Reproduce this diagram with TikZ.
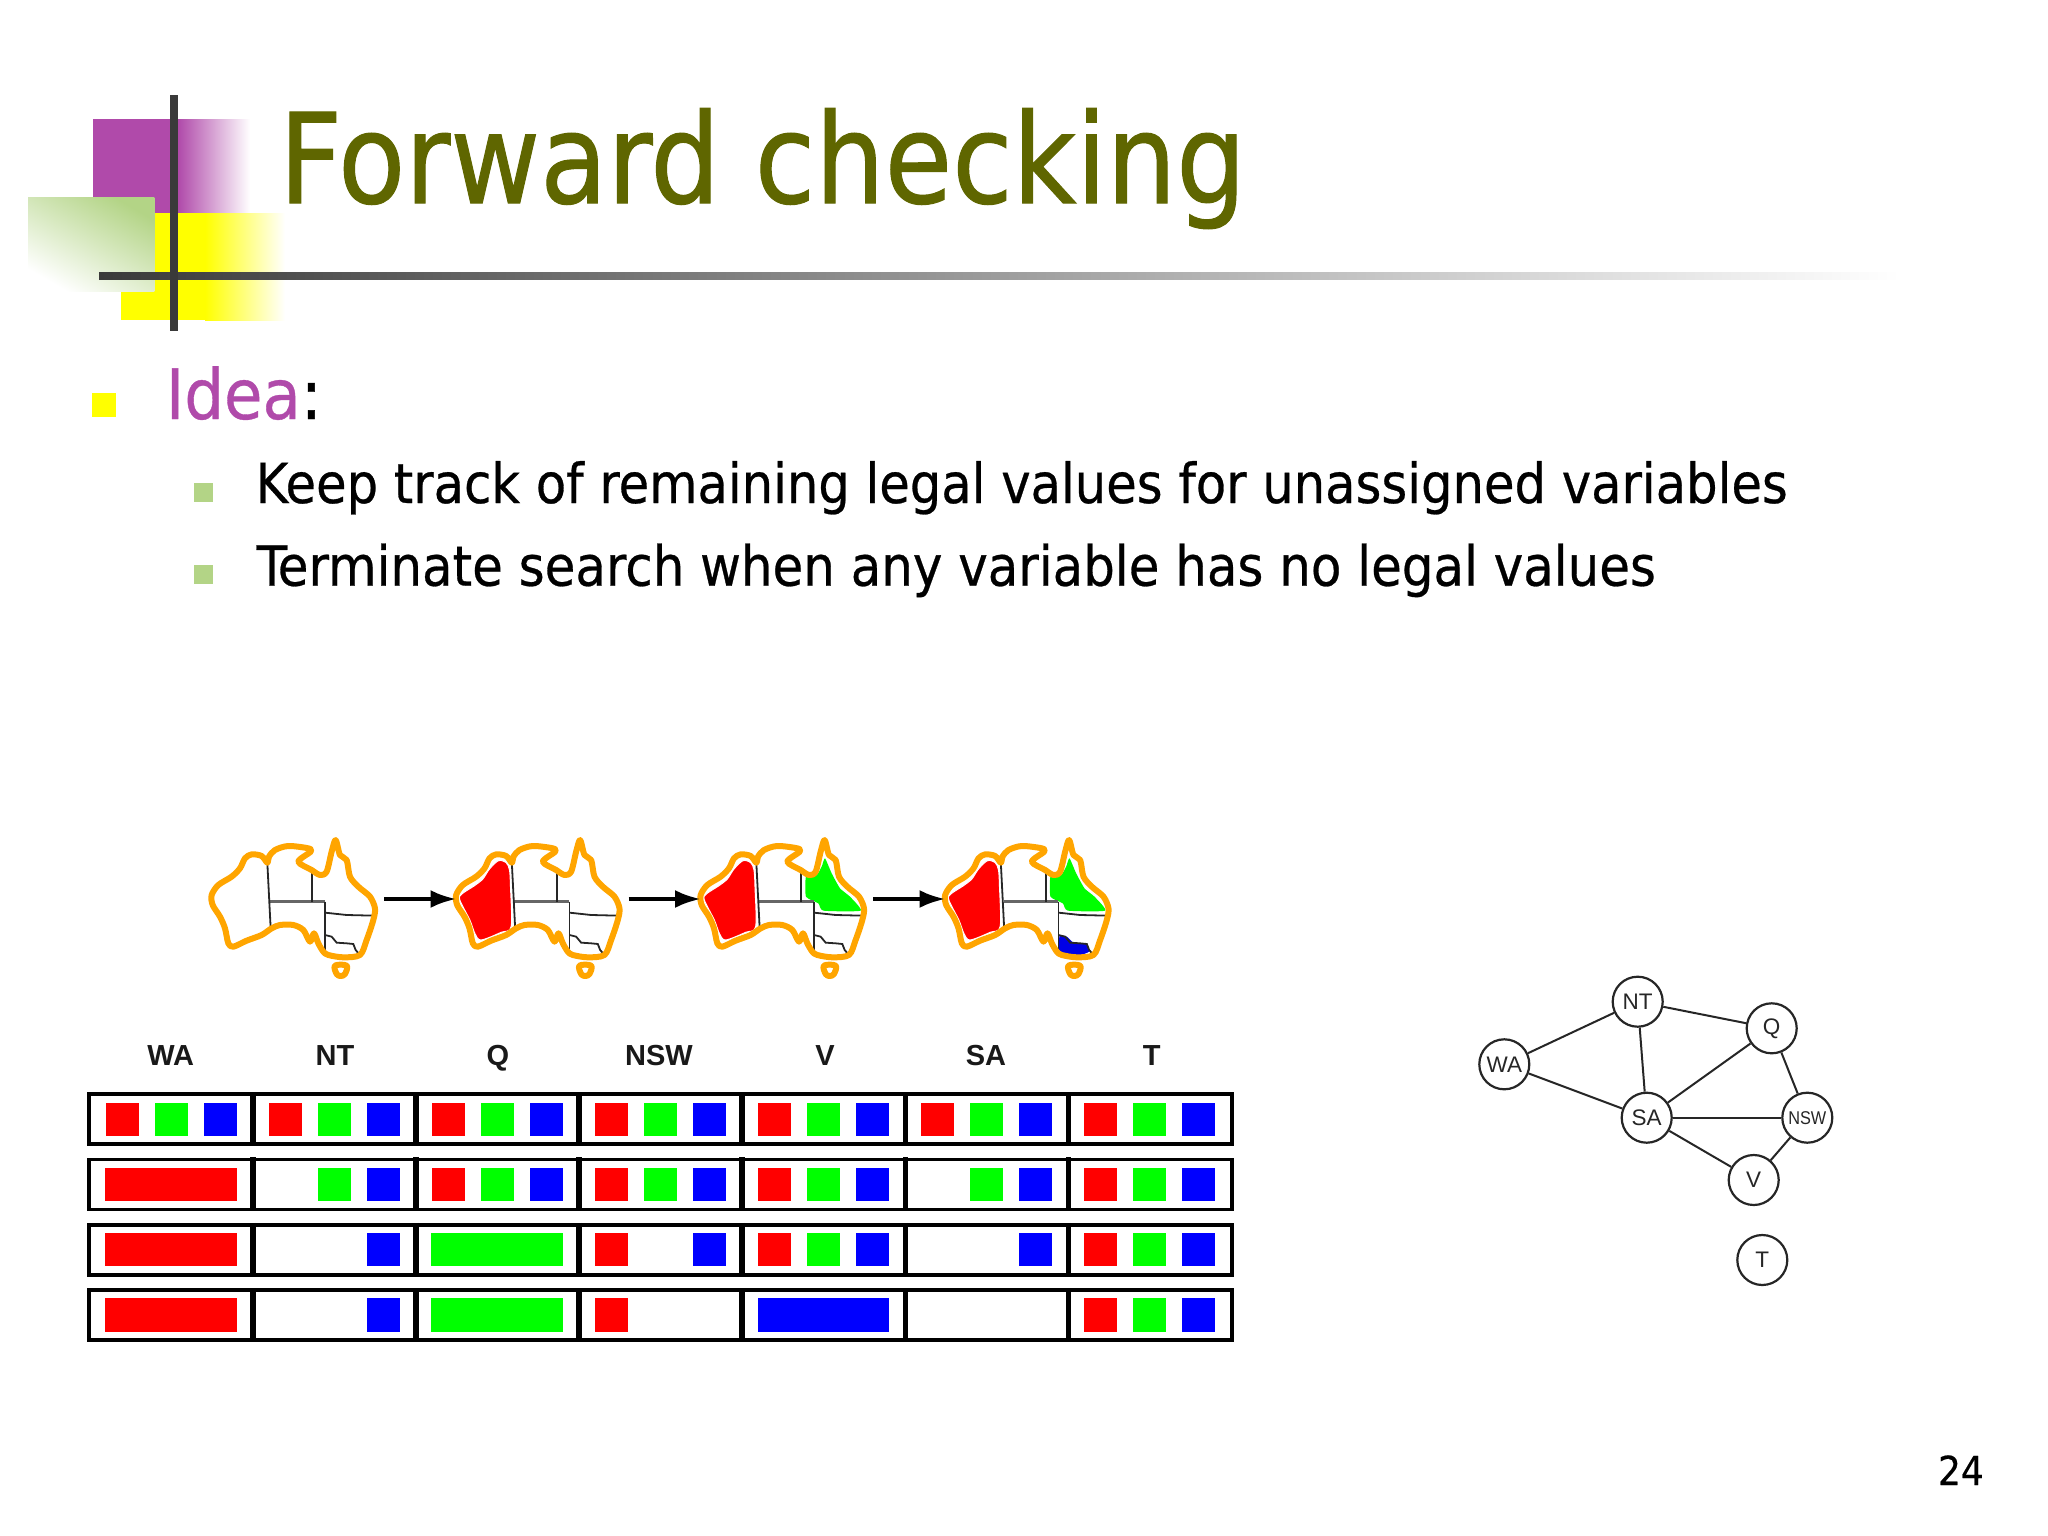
\documentclass[tikz,border=0pt]{standalone}
\usepackage{fontspec}
\setmainfont[FakeBold=0.5]{DejaVu Sans Condensed}
\newfontfamily\titlefont[FakeStretch=0.976,FakeBold=0.8]{DejaVu Sans Condensed}
\newfontfamily\lblfont{Liberation Sans}
\usepackage{xcolor}
\usetikzlibrary{positioning,arrows.meta}

\definecolor{titleolive}{HTML}{5F6600}
\definecolor{logopurple}{HTML}{B04AAA}
\definecolor{logoyellow}{HTML}{FFFF00}
\definecolor{logogreen}{HTML}{B3D486}
\definecolor{logodark}{HTML}{3A3A3A}
\definecolor{coastorange}{HTML}{FFA500}
\definecolor{domred}{HTML}{FF0000}
\definecolor{domgreen}{HTML}{00FF00}
\definecolor{domblue}{HTML}{0000FF}

% one map, in units of a third of a pixel
\newcommand{\wafill}{\draw[white,fill=domred,line width=1pt] plot[smooth cycle,tension=0.5] coordinates {(192,122) (215,128) (225,150) (228,200) (230,320) (200,337) (140,360) (122,342) (106,300) (76,240) (82,222) (120,197) (145,177) (165,147)};}
\newcommand{\qldfill}{\fill[domgreen] plot[smooth cycle,tension=0.3] coordinates {(438,115) (458,160) (483,205) (513,230) (545,272) (433,272) (418,250) (381,230) (381,170) (413,165) (428,140)};}
\newcommand{\vicfill}{\fill[domblue!90!black] plot[smooth cycle,tension=0.3] coordinates {(408,348) (430,350) (450,368) (490,372) (497,395) (470,405) (430,405) (408,395)};}
\newcommand{\ausmap}[2]{%
  \begin{scope}[shift={(#1.center)},shift={(-103.5,-79)},x=0.3333pt,y=-0.3333pt]
    #2
    \draw[border,black!60,line width=2.8pt] (240,245) -- (405,245);
    \draw[border] (232,128) -- (242,325);
    \draw[border] (367,150) -- (367,245);
    \draw[border] (405,245) -- (405,395);
    \draw[border] (405,278) -- (470,285) -- (552,287);
    \draw[border] (405,345) -- (425,350) -- (440,368) -- (470,370) -- (490,372) -- (497,390) -- (510,405);
    \draw[coast] plot[smooth cycle,tension=0.5] coordinates {(232,128) (215,108) (185,103) (165,115) (150,145) (125,170) (85,195) (65,225) (68,255) (90,290) (105,325) (115,370) (130,380) (170,362) (215,345) (245,325) (270,315) (310,315) (340,330) (360,365) (372,340) (385,370) (400,395) (415,405) (460,412) (510,405) (530,360) (550,300) (555,265) (540,230) (505,200) (480,170) (470,120) (450,105) (437,60) (425,95) (410,155) (390,165) (365,150) (325,125) (362,95) (355,85) (295,78) (255,90) (237,110)};
    \draw[coast] plot[smooth cycle,tension=0.6] coordinates {(435,437) (470,437) (465,462) (452,468) (440,462)};
  \end{scope}}

\begin{document}
\begin{tikzpicture}[
    x=1pt,y=-1pt,
    titletext/.style={inner sep=0pt,anchor=base west,text=titleolive,font=\titlefont\fontsize{125}{125}\selectfont},
    headtext/.style={inner sep=0pt,anchor=base west,font=\fontsize{69.5}{69.5}\selectfont},
    itemtext/.style={inner sep=0pt,anchor=base west,font=\fontsize{55.15}{55}\selectfont},
    pagetext/.style={inner sep=0pt,anchor=base east,font=\fontsize{40}{40}\selectfont},
    collabel/.style={inner sep=0pt,anchor=base,font=\lblfont\bfseries\fontsize{29}{29}\selectfont,text=black!90},
    csp/.style={draw=black!85,line width=2.2pt,circle,fill=white,minimum size=50pt,inner sep=0pt,text=black!85,font=\lblfont\fontsize{22.5}{22.5}\selectfont},
    mapnode/.style={minimum width=167pt,minimum height=140pt,inner sep=0pt,outer sep=0pt},
    coast/.style={draw=coastorange,line width=6pt,line join=round},
    border/.style={black!85,line width=1.8pt},
    cellbox/.style={draw=black,line width=3.8pt},
    celldiv/.style={black,line width=5.4pt},
    maparrow/.style={-{Latex[length=26pt,width=18pt]},line width=4.4pt,black}
  ]
    \useasboundingbox (0,0) rectangle (2048,1536);

    % logo
    \fill[logopurple] (93.3,119.3) rectangle (178,213);
    \shade[left color=logopurple,right color=white] (178,119.3) rectangle (250,213);
    \fill[logoyellow] (120.7,213) rectangle (205,320);
    \shade[left color=logoyellow,right color=white] (205,213) rectangle (285,320);
    \shade[shading=axis,bottom color=white,top color=logogreen,shading angle=-30] (28,197.3) rectangle (154.3,291.7);
    \shade[left color=logodark,middle color=black!26,right color=white] (99,272) rectangle (1900,279.7);
    \fill[logodark] (170.3,95) rectangle (177.7,331);

    \node[titletext] (title) at (279,203) {Forward checking};

    % bullets
    \fill[logoyellow] (92,392.7) rectangle (116,416.7);
    \fill[logogreen] (194,482.7) rectangle (212.7,501.7);
    \fill[logogreen] (194,565) rectangle (212.7,584.3);
    \node[headtext] (idea) at (165.7,419) {\textcolor{logopurple}{Idea}:};
    \node[itemtext] (keep) at (255.5,503) {Keep track of remaining legal values for unassigned variables};
    \node[itemtext,font=\fontsize{55.45}{55}\selectfont] (stop) at (256.5,585.7) {Terminate search when any variable has no legal values};

    % maps
    \node[mapnode] (map1) at (293.5,899) {};
    \node[mapnode,right=77.5pt of map1] (map2) {};
    \node[mapnode,right=77.5pt of map2] (map3) {};
    \node[mapnode,right=77.5pt of map3] (map4) {};
    \ausmap{map1}{}
    \ausmap{map2}{\wafill}
    \ausmap{map3}{\wafill\qldfill}
    \ausmap{map4}{\wafill\qldfill\vicfill}
    \foreach \from/\to in {map1/map2,map2/map3,map3/map4}
      \draw[maparrow,shorten <=7pt,shorten >=-2pt] (\from) -- (\to);

    % domains table
    \foreach \name/\xpos in {WA/170.7,NT/335,Q/498,NSW/659,V/825,SA/986,T/1151.7}
      \node[collabel] (col\name) at (\xpos,1065.5) {\name};
    \foreach \row in {0,...,3} {
      \draw[cellbox] (89,{1094+65.4*\row}) rectangle (1231.6,{1144+65.4*\row});
      \foreach \col in {1,...,6}
        \draw[celldiv] ({89.7+163.1*\col},{1092+65.4*\row}) -- ({89.7+163.1*\col},{1146+65.4*\row});
    }
    \foreach \hue/\slot/\cells in {
        domred/16/{0/0,1/0,2/0,3/0,4/0,5/0,6/0,2/1,3/1,4/1,6/1,3/2,4/2,6/2,3/3,6/3},
        domgreen/65/{0/0,1/0,2/0,3/0,4/0,5/0,6/0,1/1,2/1,3/1,4/1,5/1,6/1,4/2,6/2,6/3},
        domblue/114/{0/0,1/0,2/0,3/0,4/0,5/0,6/0,1/1,2/1,3/1,4/1,5/1,6/1,1/2,3/2,4/2,5/2,6/2,1/3,6/3}}
      \foreach \col/\row in \cells
        \fill[\hue] ({89.7+163.1*\col+\slot},{1102.7+65.1*\row}) rectangle ++(33,33.5);
    \foreach \hue/\col/\row in {domred/0/1,domred/0/2,domred/0/3,domgreen/2/2,domgreen/2/3,domblue/4/3}
      \fill[\hue] ({89.7+163.1*\col+15.5},{1102.7+65.1*\row}) rectangle ++(131.5,33.5);

    % constraint graph
    \node[csp] (wa) at (1504.3,1064.3) {WA};
    \node[csp] (nt) at (1637.7,1001.7) {NT};
    \node[csp] (q) at (1771.7,1028.3) {Q};
    \node[csp] (sa) at (1646.7,1117.7) {SA};
    \node[csp,font=\lblfont\fontsize{18.5}{18.5}\selectfont] (nsw) at (1807.3,1117.7) {\scalebox{0.88}[1]{NSW}};
    \node[csp] (v) at (1753.7,1180) {V};
    \node[csp] (t) at (1762.3,1260) {T};
    \foreach \from/\to in {wa/nt,wa/sa,nt/q,nt/sa,sa/q,sa/nsw,sa/v,q/nsw,nsw/v}
      \draw[black!85,line width=2pt] (\from) -- (\to);

    \node[pagetext] (page) at (1984,1485) {24};
  \end{tikzpicture}
\end{document}
